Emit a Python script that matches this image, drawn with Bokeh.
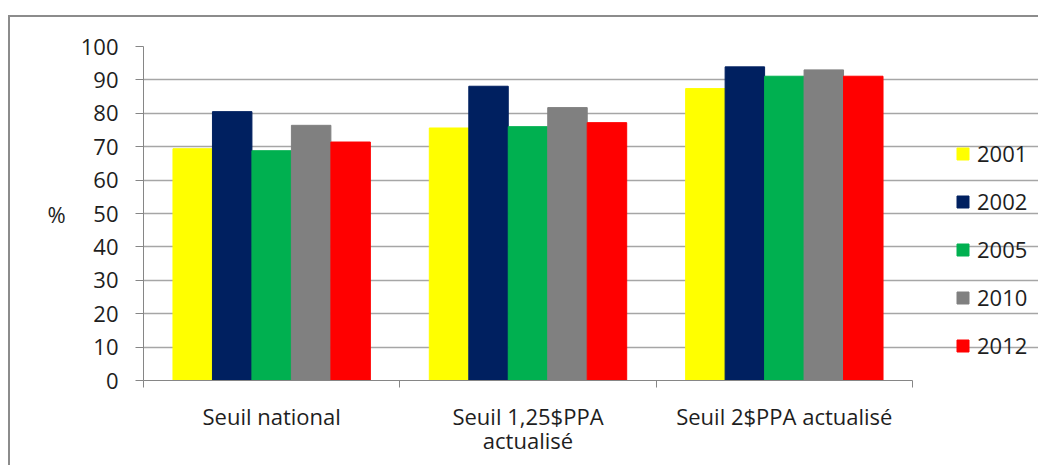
from bokeh.plotting import figure
from bokeh.models import (ColumnDataSource, Range1d, LinearAxis, FixedTicker, Legend,
                          LegendItem, Grid)
from bokeh.transform import dodge
from bokeh.embed import file_html
from bokeh.resources import INLINE

categories = ["Seuil national", "Seuil 1,25$PPA actualisé", "Seuil 2$PPA actualisé"]
years = ["2001", "2002", "2005", "2010", "2012"]
v2001 = [69.4, 75.6, 87.4]
v2002 = [80.5, 88.1, 93.9]
v2005 = [68.8, 76.0, 91.1]
v2010 = [76.4, 81.7, 93.0]
v2012 = [71.4, 77.2, 91.1]
y_ticks = [0, 10, 20, 30, 40, 50, 60, 70, 80, 90, 100]
colors = ["#FFFF00", "#002060", "#00B050", "#808080", "#FF0000"]

FONT = "Open Sans"
FS = "22px"
TXT = "#1e1e1e"
AX = "#868686"

n = len(categories)
centers = [i + 0.5 for i in range(n)]
src = ColumnDataSource(dict(x=centers, cat=categories, y2001=v2001, y2002=v2002, y2005=v2005,
                            y2010=v2010, y2012=v2012))

# layout: bar area is 769 px wide, the frame continues to the right to hold the legend
W, H = 1030, 450
LEFT = 133
BAR_PX = 769
FRAME_PX = W - LEFT
x_end = n * FRAME_PX / BAR_PX

p = figure(width=W, height=H, x_range=Range1d(0, x_end), y_range=Range1d(0, 100),
           output_backend="svg", toolbar_location=None,
           x_axis_location=None, y_axis_location=None,
           min_border_left=LEFT, min_border_right=0, min_border_top=29, min_border_bottom=87)
p.margin = (15, 0, 0, 8)
p.styles = {"border-left": "2px solid #8c8c8c", "border-top": "2px solid #8c8c8c"}
p.outline_line_color = None
p.background_fill_color = "white"
p.border_fill_color = "white"
for g in p.grid:
    g.grid_line_color = None

cat_axis = LinearAxis(ticker=FixedTicker(ticks=centers, minor_ticks=list(range(n + 1))),
                      bounds=(0, n))
cat_axis.major_label_overrides = {c: (lab if i != 1 else "Seuil 1,25$PPA\nactualisé")
                                  for i, (c, lab) in enumerate(zip(centers, categories))}
cat_axis.axis_line_color = AX
cat_axis.major_tick_line_color = None
cat_axis.major_tick_out = 0
cat_axis.major_tick_in = 0
cat_axis.minor_tick_line_color = AX
cat_axis.minor_tick_out = 7
cat_axis.minor_tick_in = 0
cat_axis.major_label_standoff = 13
cat_axis.major_label_text_font = FONT
cat_axis.major_label_text_font_size = FS
cat_axis.major_label_text_color = TXT
cat_axis.major_label_text_line_height = 0.83
p.add_layout(cat_axis, "below")

y_axis = LinearAxis(ticker=FixedTicker(ticks=y_ticks), axis_label="%")
y_axis.axis_label_orientation = "horizontal"
y_axis.axis_label_text_font = FONT
y_axis.axis_label_text_font_style = "normal"
y_axis.axis_label_text_font_size = FS
y_axis.axis_label_text_color = TXT
y_axis.axis_label_standoff = 12
y_axis.axis_line_color = AX
y_axis.major_tick_line_color = AX
y_axis.major_tick_out = 8
y_axis.major_tick_in = 0
y_axis.minor_tick_line_color = None
y_axis.major_label_standoff = 17
y_axis.major_label_text_font = FONT
y_axis.major_label_text_font_size = FS
y_axis.major_label_text_color = TXT
p.add_layout(y_axis, "left")

grid = Grid(dimension=1, ticker=FixedTicker(ticks=y_ticks), bounds=(0, n))
grid.grid_line_color = "#a6a6a6"
grid.grid_line_width = 1.5
p.add_layout(grid)

bw = 0.154
offsets = [-2 * bw, -bw, 0, bw, 2 * bw]
items = []
for yr, col, off in zip(years, colors, offsets):
    r = p.vbar(x=dodge("x", off), top="y" + yr, width=bw, source=src,
               fill_color=col, line_color=col)
    items.append(LegendItem(label=yr, renderers=[r]))

legend = Legend(items=items, location=(BAR_PX + 43, 20))
legend.margin = 0
legend.padding = 0
legend.border_line_color = None
legend.background_fill_alpha = 0
legend.glyph_width = 15
legend.glyph_height = 15
legend.label_height = 22
legend.spacing = 18
legend.label_standoff = 7
legend.label_text_font = FONT
legend.label_text_font_size = FS
legend.label_text_color = TXT
p.add_layout(legend)

open("out.html", "w").write(file_html(p, INLINE))
